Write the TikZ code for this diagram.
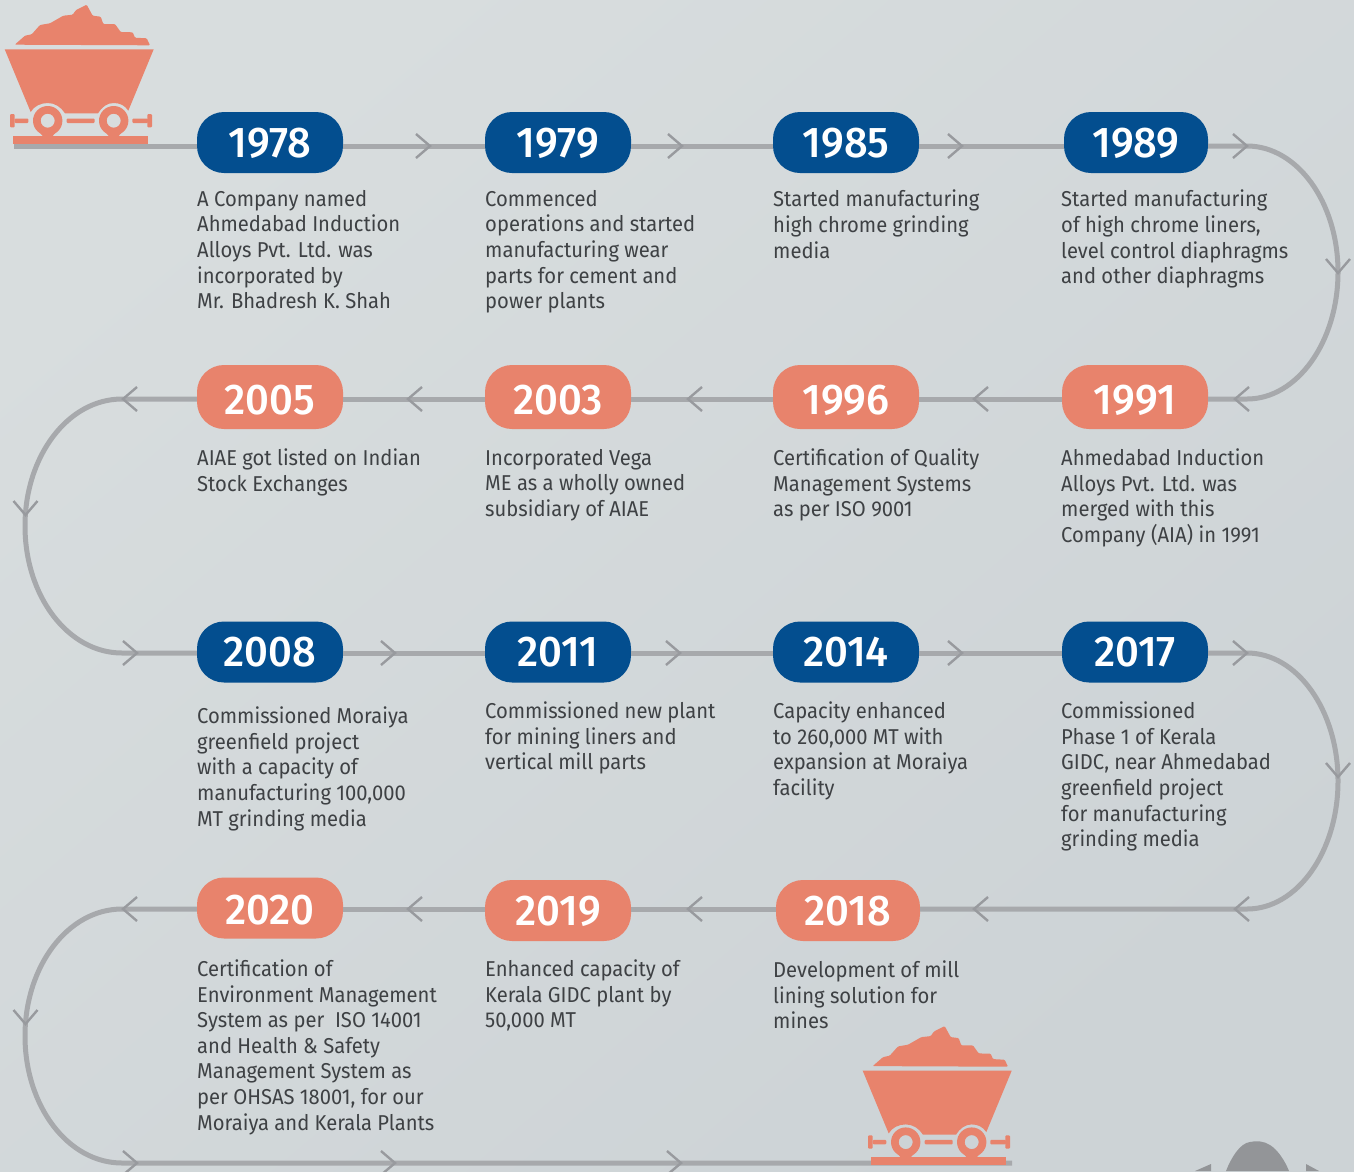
\documentclass[tikz,border=0pt]{standalone}
\usepackage{fontspec}
\setmainfont[FakeStretch=0.94]{Fira Sans}
\newfontfamily\yearfont[FakeStretch=0.97]{Fira Sans Medium}
\definecolor{navypill}{HTML}{034E8F}
\definecolor{salmon}{HTML}{E8836C}
\definecolor{railgray}{HTML}{A7A9AC}
\definecolor{chevgray}{HTML}{989A9E}
\definecolor{inktext}{HTML}{3E4144}
\definecolor{hillgray}{HTML}{939598}
\definecolor{bgtop}{HTML}{D8DDDE}
\definecolor{bgmid}{HTML}{CFD5D8}
\definecolor{bgbot}{HTML}{CDD3D6}
\tikzset{
  bluepill/.style={draw=none,fill=navypill,text=white,rounded corners=27pt,inner sep=0pt,
    minimum height=61pt,font=\yearfont\fontsize{43}{43}\selectfont},
  salmonpill/.style={bluepill,fill=salmon},
  story/.style={anchor=north west,inner sep=0pt,align=left,text=inktext,
    font=\fontsize{21.5}{25.6}\selectfont},
  track/.style={draw=railgray,line width=5pt},
  chevline/.style={draw=chevgray,line width=2.4pt},
  oretruck/.pic={
    \fill[salmon,rounded corners=1pt] (14.7,44.7) -- (25,35.7) -- (31.7,34.3) -- (40,25) -- (50,23.3) -- (63.3,15.7)
      -- (72.7,14.7) -- (76,10) -- (86.7,4.7) -- (92.7,15.7) -- (100.7,16.7) -- (103.3,24) -- (115,24)
      -- (120.7,32) -- (132.7,32.3) -- (135,37.7) -- (146.7,38.3) -- (150,45.3) -- cycle;
    \fill[salmon] (4.7,49.3) -- (153.7,49.3) -- (128.3,110.7) .. controls (125,105.5) and (120,103) .. (113.7,103)
      .. controls (107,103) and (102,107) .. (98,113.3) -- (65,113.3) .. controls (61,107) and (55,103) .. (47.7,103)
      .. controls (41,103) and (34,106) .. (30.7,112) -- cycle;
    % wheels
    \foreach \wx in {47.7,113.7} {
      \fill[salmon,even odd rule] (\wx,120.7) circle (14.7) (\wx,120.7) circle (7);
      \fill[salmon] (\wx-10,130) -- (\wx-5,136) -- (\wx+5,136) -- (\wx+10,130) -- (\wx,134) -- cycle;
    }
    % axle and buffers
    \fill[salmon,rounded corners=1pt] (66.7,118.5) rectangle (94.7,123);
    \fill[salmon,rounded corners=1pt] (14.7,118.5) rectangle (28.3,123);
    \fill[salmon,rounded corners=1pt] (132.3,118.5) rectangle (148,123);
    \fill[salmon,rounded corners=1pt] (10,114) rectangle (14.7,127.3);
    \fill[salmon,rounded corners=1pt] (147.3,114) rectangle (152,127.3);
    \fill[salmon] (13.3,135.7) rectangle (147.7,143.7);
  }
}
\newcommand{\chevron}[3]{\draw[chevline,shift={(#1,#2)},rotate=#3] (-14,-12) -- (0,0) -- (-14,12);}
\newcommand{\yearlabel}[2]{\raisebox{\dimexpr-14.8pt-#2pt\relax}[0pt][0pt]{#1}}
\begin{document}
\begin{tikzpicture}[x=1pt,y=-1pt]
\useasboundingbox (0,0) rectangle (1354,1171);
\shade[top color=bgtop,middle color=bgmid,bottom color=bgbot,shading angle=40] (0,0) rectangle (1354,1171);

\coordinate (r1) at (0,146);
\coordinate (r2) at (0,399);
\coordinate (r3) at (0,653);
\coordinate (r4) at (0,909);
\coordinate (r5) at (0,1163);
\coordinate (railstart) at (14,146);
\coordinate (railend) at (1012,1163);

% year pills
\foreach \yr/\x/\y/\w/\dn in {1978/270/142.5/146/0.5,1979/558/142.5/146/0.5,1985/846/142.5/146/0.5,1989/1136/142.5/144/0.5,
                          2008/270/652/146/-0.5,2011/558/652/146/-0.5,2014/846/652/146/-0.5,2017/1135/652/146/-0.5}
    \node[bluepill,minimum width=\w pt] (y\yr) at (\x,\y) {\yearlabel{\yr}{\dn}};
\foreach \yr/\x/\y/\w/\h/\dn in {2005/270/397/146/64/3,2003/558/397/146/64/3,1996/846/397/146/64/3,1991/1135/397/146/64/3,
                          2020/270/908/146/61/2,2019/558/910.5/146/61/0,2018/848/910.5/144/61/0}
    \node[salmonpill,minimum width=\w pt,minimum height=\h pt] (y\yr) at (\x,\y) {\yearlabel{\yr}{\dn}};

% texts
\node[story] (t1978) at (197,190) {A Company named\\Ahmedabad Induction\\Alloys Pvt. Ltd. was\\incorporated by\\Mr. Bhadresh K. Shah};
\node[story] (t1979) at (485,190) {Commenced\\operations and started\\manufacturing wear\\parts for cement and\\power plants};
\node[story] (t1985) at (773,190) {Started manufacturing\\high chrome grinding\\media};
\node[story] (t1989) at (1061,190) {Started manufacturing\\of high chrome liners,\\level control diaphragms\\and other diaphragms};
\node[story] (t2005) at (197,448.7) {AIAE got listed on Indian\\Stock Exchanges};
\node[story] (t2003) at (485,448.7) {Incorporated Vega\\ME as a wholly owned\\subsidiary of AIAE};
\node[story] (t1996) at (773,448.7) {Certification of Quality\\Management Systems\\as per ISO 9001};
\node[story] (t1991) at (1061,448.7) {Ahmedabad Induction\\Alloys Pvt. Ltd. was\\merged with this\\Company (AIA) in 1991};
\node[story] (t2008) at (197,706.7) {Commissioned Moraiya\\greenfield project\\with a capacity of\\manufacturing 100,000\\MT grinding media};
\node[story] (t2011) at (485,701.7) {Commissioned new plant\\for mining liners and\\vertical mill parts};
\node[story] (t2014) at (773,701.7) {Capacity enhanced\\to 260,000 MT with\\expansion at Moraiya\\facility};
\node[story] (t2017) at (1061,701.7) {Commissioned\\Phase 1 of Kerala\\GIDC, near Ahmedabad\\greenfield project\\for manufacturing\\grinding media};
\node[story] (t2020) at (197,959.5) {Certification of\\Environment Management\\System as per~ ISO 14001\\and Health \& Safety\\Management System as\\per OHSAS 18001, for our\\Moraiya and Kerala Plants};
\node[story] (t2019) at (485,959.5) {Enhanced capacity of\\Kerala GIDC plant by\\50,000 MT};
\node[story] (t2018) at (773,960.5) {Development of mill\\lining solution for\\mines};

% straight rails
\draw[track] (railstart) -- (y1978.west |- r1);
\foreach \a/\b/\r in {1978/1979/r1,1979/1985/r1,1985/1989/r1,
                      2005/2003/r2,2003/1996/r2,1996/1991/r2,
                      2008/2011/r3,2011/2014/r3,2014/2017/r3,
                      2020/2019/r4,2019/2018/r4}
    \draw[track] (y\a.east |- \r) -- (y\b.west |- \r);

% bends
\draw[track] (y1989.east |- r1) -- (1247,146) .. controls (1297,146) and (1338,202) .. (1338,272)
    .. controls (1338,342) and (1297,399) .. (1247,399) -- (y1991.east |- r2);
\draw[track] (y2017.east |- r3) -- (1247,653) .. controls (1297,653) and (1338,710) .. (1338,781)
    .. controls (1338,852) and (1297,909) .. (1247,909) -- (y2018.east |- r4);
\draw[track] (y2005.west |- r2) -- (122,399) .. controls (68,399) and (25,456) .. (25,526)
    .. controls (25,596) and (68,653) .. (122,653) -- (y2008.west |- r3);
\draw[track] (y2020.west |- r4) -- (122,909) .. controls (68,909) and (25,966) .. (25,1036)
    .. controls (25,1106) and (68,1163) .. (122,1163) -- (railend);

% arrow marks
\foreach \x in {430,682,962,1247} {\chevron{\x}{146}{0}}
\foreach \x in {137,395,680,962,1247} {\chevron{\x}{653}{0}}
\foreach \x in {137,395,681} {\chevron{\x}{1163}{0}}
\foreach \x in {1235,974,688,408,123} {
    \chevron{\x}{399}{180}
    \chevron{\x}{909}{180}
}
\chevron{1338}{273}{-90}
\chevron{1338}{777}{-90}
\chevron{25.5}{515}{-90}
\chevron{25.5}{1024}{-90}

% carts
\pic at (0,0) {oretruck};
\pic at (858,1021.4) {oretruck};

% hill at the bottom edge
\fill[hillgray] (1226,1171) .. controls (1231,1158) and (1240,1143) .. (1250,1142) .. controls (1256,1140.5) and (1264,1141) .. (1270,1145)
    .. controls (1278,1150) and (1285,1161) .. (1289,1171) -- cycle;
\fill[hillgray] (1195,1171) -- (1211,1164) -- (1211,1171) -- cycle;
\fill[hillgray] (1306,1164) -- (1319,1171) -- (1306,1171) -- cycle;
\end{tikzpicture}
\end{document}
